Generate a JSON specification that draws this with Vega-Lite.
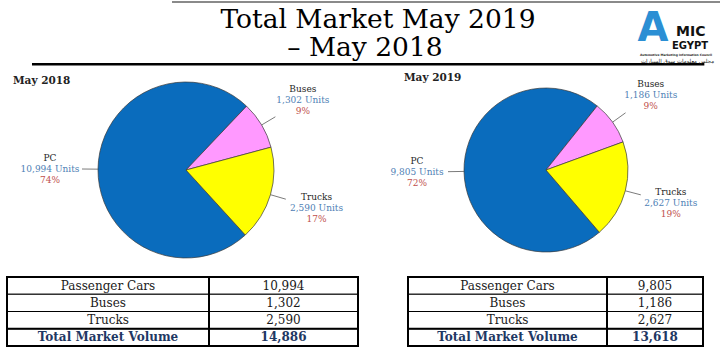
{
  "$schema": "https://vega.github.io/schema/vega-lite/v6.json",
  "padding": 0,
  "background": "white",
  "bounds": "flush",
  "spacing": 0,
  "columns": 2,
  "config": {
    "view": {"stroke": null},
    "text": {"font": "DejaVu Serif"},
    "title": {"font": "DejaVu Serif"}
  },
  "datasets": {
    "p2018": [{"cat": "PC", "units": 10994}, {"cat": "Buses", "units": 1302}, {"cat": "Trucks", "units": 2590}],
    "p2019": [{"cat": "PC", "units": 9805}, {"cat": "Buses", "units": 1186}, {"cat": "Trucks", "units": 2627}],
    "t2018": [{"row": "Passenger Cars", "units": 10994}, {"row": "Buses", "units": 1302}, {"row": "Trucks", "units": 2590}, {"row": "Total Market Volume", "units": 14886}],
    "t2019": [{"row": "Passenger Cars", "units": 9805}, {"row": "Buses", "units": 1186}, {"row": "Trucks", "units": 2627}, {"row": "Total Market Volume", "units": 13618}]
  },
  "concat": [
    {
      "width": 372,
      "height": 62,
      "data": {"values": [{"k": 1}]},
      "layer": [
        {
          "mark": {"type": "rule", "color": "#8a8a8a", "strokeWidth": 2},
          "encoding": {
            "x": {"datum": 0.4624, "type": "quantitative", "scale": {"domain": [0, 1], "nice": false, "zero": false}, "axis": null},
            "x2": {"datum": 1},
            "y": {"datum": 0.016, "type": "quantitative", "scale": {"domain": [0, 1], "reverse": true, "nice": false, "zero": false}, "axis": null}
          }
        },
        {
          "mark": {"type": "rule", "color": "#000000", "strokeWidth": 2.5},
          "encoding": {
            "x": {"datum": 0.086, "type": "quantitative", "scale": {"domain": [0, 1], "nice": false, "zero": false}, "axis": null},
            "x2": {"datum": 1},
            "y": {"datum": 1.02, "type": "quantitative", "scale": {"domain": [0, 1], "reverse": true, "nice": false, "zero": false}, "axis": null}
          }
        },
        {
          "mark": {"type": "text", "fontSize": 26.5, "align": "center", "baseline": "alphabetic", "color": "#000000", "text": "Total Market May 2019"},
          "encoding": {
            "x": {"datum": 1.016, "type": "quantitative", "scale": {"domain": [0, 1], "nice": false, "zero": false}, "axis": null},
            "y": {"datum": 0.435, "type": "quantitative", "scale": {"domain": [0, 1], "reverse": true, "nice": false, "zero": false}, "axis": null}
          }
        },
        {
          "mark": {"type": "text", "fontSize": 26.5, "align": "center", "baseline": "alphabetic", "color": "#000000", "text": "– May 2018"},
          "encoding": {
            "x": {"datum": 0.981, "type": "quantitative", "scale": {"domain": [0, 1], "nice": false, "zero": false}, "axis": null},
            "y": {"datum": 0.887, "type": "quantitative", "scale": {"domain": [0, 1], "reverse": true, "nice": false, "zero": false}, "axis": null}
          }
        }
      ]
    },
    {
      "width": 348,
      "height": 62,
      "data": {"values": [{"k": 1}]},
      "layer": [
        {
          "mark": {"type": "rule", "color": "#8a8a8a", "strokeWidth": 2},
          "encoding": {
            "x": {"datum": 0, "type": "quantitative", "scale": {"domain": [0, 1], "nice": false, "zero": false}, "axis": null},
            "x2": {"datum": 1},
            "y": {"datum": 0.016, "type": "quantitative", "scale": {"domain": [0, 1], "reverse": true, "nice": false, "zero": false}, "axis": null}
          }
        },
        {
          "mark": {"type": "rule", "color": "#000000", "strokeWidth": 2.5},
          "encoding": {
            "x": {"datum": 0, "type": "quantitative", "scale": {"domain": [0, 1], "nice": false, "zero": false}, "axis": null},
            "x2": {"datum": 0.955},
            "y": {"datum": 1.02, "type": "quantitative", "scale": {"domain": [0, 1], "reverse": true, "nice": false, "zero": false}, "axis": null}
          }
        },
        {
          "mark": {"type": "text", "font": "DejaVu Sans", "fontWeight": "bold", "fontSize": 40, "align": "center", "baseline": "alphabetic", "color": "#2b8fd4", "text": "A"},
          "encoding": {
            "x": {"datum": 0.8075, "type": "quantitative", "scale": {"domain": [0, 1], "nice": false, "zero": false}, "axis": null},
            "y": {"datum": 0.645, "type": "quantitative", "scale": {"domain": [0, 1], "reverse": true, "nice": false, "zero": false}, "axis": null}
          }
        },
        {
          "mark": {"type": "text", "font": "DejaVu Sans", "fontWeight": "bold", "fontSize": 14, "align": "left", "baseline": "alphabetic", "color": "#111111", "text": "MIC"},
          "encoding": {
            "x": {"datum": 0.8736, "type": "quantitative", "scale": {"domain": [0, 1], "nice": false, "zero": false}, "axis": null},
            "y": {"datum": 0.565, "type": "quantitative", "scale": {"domain": [0, 1], "reverse": true, "nice": false, "zero": false}, "axis": null}
          }
        },
        {
          "mark": {"type": "text", "font": "DejaVu Sans", "fontWeight": "bold", "fontSize": 10, "align": "left", "baseline": "alphabetic", "color": "#111111", "text": "EGYPT"},
          "encoding": {
            "x": {"datum": 0.862, "type": "quantitative", "scale": {"domain": [0, 1], "nice": false, "zero": false}, "axis": null},
            "y": {"datum": 0.782, "type": "quantitative", "scale": {"domain": [0, 1], "reverse": true, "nice": false, "zero": false}, "axis": null}
          }
        },
        {
          "mark": {"type": "text", "font": "DejaVu Sans", "fontWeight": "bold", "fontSize": 3, "align": "left", "baseline": "alphabetic", "color": "#222222", "text": "Automotive Marketing Information Council"},
          "encoding": {
            "x": {"datum": 0.77, "type": "quantitative", "scale": {"domain": [0, 1], "nice": false, "zero": false}, "axis": null},
            "y": {"datum": 0.879, "type": "quantitative", "scale": {"domain": [0, 1], "reverse": true, "nice": false, "zero": false}, "axis": null}
          }
        },
        {
          "mark": {"type": "text", "font": "DejaVu Sans", "fontSize": 5.5, "align": "right", "baseline": "alphabetic", "color": "#222222", "text": "مجلس معلومات سوق السيارات"},
          "encoding": {
            "x": {"datum": 0.983, "type": "quantitative", "scale": {"domain": [0, 1], "nice": false, "zero": false}, "axis": null},
            "y": {"datum": 0.992, "type": "quantitative", "scale": {"domain": [0, 1], "reverse": true, "nice": false, "zero": false}, "axis": null}
          }
        }
      ]
    },
    {
      "width": 372,
      "height": 214,
      "data": {"name": "p2018"},
      "title": {"text": "May 2018", "anchor": "start", "frame": "group", "dx": 13, "offset": -23, "fontSize": 10.5, "fontWeight": "bold", "color": "#222222"},
      "transform": [
        {"joinaggregate": [{"op": "sum", "field": "units", "as": "total"}]},
        {"window": [{"op": "sum", "field": "units", "as": "cum"}], "sort": [{"field": "units", "order": "ascending"}], "frame": [null, 0]},
        {"calculate": "0.759 + 2*PI*(datum.cum - datum.units/2)/datum.total", "as": "mid"},
        {"calculate": "88*sin(datum.mid)", "as": "ax"},
        {"calculate": "88*cos(datum.mid)", "as": "ay"},
        {"calculate": "104*sin(datum.mid)", "as": "bx"},
        {"calculate": "104*cos(datum.mid)", "as": "by"},
        {"calculate": "136*sin(datum.mid)", "as": "lx"},
        {"calculate": "136*cos(datum.mid)", "as": "ly"},
        {"calculate": "format(datum.units/datum.total, '.0%')", "as": "pct"},
        {"calculate": "format(datum.units, ',') + ' Units'", "as": "unitsLabel"}
      ],
      "layer": [
        {
          "mark": {"type": "arc", "outerRadius": 88, "stroke": "#3a3a3a", "strokeWidth": 0.7},
          "encoding": {
            "theta": {"field": "units", "type": "quantitative", "stack": true, "scale": {"range": [0.759, 7.042]}},
            "order": {"field": "units", "type": "quantitative", "sort": "ascending"},
            "color": {"field": "cat", "type": "nominal", "scale": {"domain": ["PC", "Buses", "Trucks"], "range": ["#0a6cbd", "#ff99ff", "#ffff00"]}, "legend": null}
          }
        },
        {
          "mark": {"type": "rule", "color": "#595959", "strokeWidth": 0.8},
          "encoding": {
            "x": {"field": "ax", "type": "quantitative", "scale": {"domain": [-186, 186], "nice": false, "zero": false}, "axis": null},
            "y": {"field": "ay", "type": "quantitative", "scale": {"domain": [-107, 107], "nice": false, "zero": false}, "axis": null},
            "x2": {"field": "bx"},
            "y2": {"field": "by"}
          }
        },
        {
          "mark": {"type": "text", "fontSize": 9, "dy": -11, "color": "#262626"},
          "encoding": {
            "x": {"field": "lx", "type": "quantitative", "scale": {"domain": [-186, 186], "nice": false, "zero": false}, "axis": null},
            "y": {"field": "ly", "type": "quantitative", "scale": {"domain": [-107, 107], "nice": false, "zero": false}, "axis": null},
            "text": {"field": "cat"}
          }
        },
        {
          "mark": {"type": "text", "fontSize": 9, "dy": 0, "color": "#4f7fb5"},
          "encoding": {
            "x": {"field": "lx", "type": "quantitative", "scale": {"domain": [-186, 186], "nice": false, "zero": false}, "axis": null},
            "y": {"field": "ly", "type": "quantitative", "scale": {"domain": [-107, 107], "nice": false, "zero": false}, "axis": null},
            "text": {"field": "unitsLabel"}
          }
        },
        {
          "mark": {"type": "text", "fontSize": 9, "dy": 11, "color": "#c0504d"},
          "encoding": {
            "x": {"field": "lx", "type": "quantitative", "scale": {"domain": [-186, 186], "nice": false, "zero": false}, "axis": null},
            "y": {"field": "ly", "type": "quantitative", "scale": {"domain": [-107, 107], "nice": false, "zero": false}, "axis": null},
            "text": {"field": "pct"}
          }
        }
      ]
    },
    {
      "width": 348,
      "height": 214,
      "data": {"name": "p2019"},
      "title": {"text": "May 2019", "anchor": "start", "frame": "group", "dx": 32, "offset": -20, "fontSize": 10.5, "fontWeight": "bold", "color": "#222222"},
      "transform": [
        {"joinaggregate": [{"op": "sum", "field": "units", "as": "total"}]},
        {"window": [{"op": "sum", "field": "units", "as": "cum"}], "sort": [{"field": "units", "order": "ascending"}], "frame": [null, 0]},
        {"calculate": "0.674 + 2*PI*(datum.cum - datum.units/2)/datum.total", "as": "mid"},
        {"calculate": "82*sin(datum.mid)", "as": "ax"},
        {"calculate": "82*cos(datum.mid)", "as": "ay"},
        {"calculate": "98*sin(datum.mid)", "as": "bx"},
        {"calculate": "98*cos(datum.mid)", "as": "by"},
        {"calculate": "129*sin(datum.mid)", "as": "lx"},
        {"calculate": "129*cos(datum.mid)", "as": "ly"},
        {"calculate": "format(datum.units/datum.total, '.0%')", "as": "pct"},
        {"calculate": "format(datum.units, ',') + ' Units'", "as": "unitsLabel"}
      ],
      "layer": [
        {
          "mark": {"type": "arc", "outerRadius": 82, "stroke": "#3a3a3a", "strokeWidth": 0.7},
          "encoding": {
            "theta": {"field": "units", "type": "quantitative", "stack": true, "scale": {"range": [0.674, 6.957]}},
            "order": {"field": "units", "type": "quantitative", "sort": "ascending"},
            "color": {"field": "cat", "type": "nominal", "scale": {"domain": ["PC", "Buses", "Trucks"], "range": ["#0a6cbd", "#ff99ff", "#ffff00"]}, "legend": null}
          }
        },
        {
          "mark": {"type": "rule", "color": "#595959", "strokeWidth": 0.8},
          "encoding": {
            "x": {"field": "ax", "type": "quantitative", "scale": {"domain": [-174, 174], "nice": false, "zero": false}, "axis": null},
            "y": {"field": "ay", "type": "quantitative", "scale": {"domain": [-107, 107], "nice": false, "zero": false}, "axis": null},
            "x2": {"field": "bx"},
            "y2": {"field": "by"}
          }
        },
        {
          "mark": {"type": "text", "fontSize": 9, "dy": -11, "color": "#262626"},
          "encoding": {
            "x": {"field": "lx", "type": "quantitative", "scale": {"domain": [-174, 174], "nice": false, "zero": false}, "axis": null},
            "y": {"field": "ly", "type": "quantitative", "scale": {"domain": [-107, 107], "nice": false, "zero": false}, "axis": null},
            "text": {"field": "cat"}
          }
        },
        {
          "mark": {"type": "text", "fontSize": 9, "dy": 0, "color": "#4f7fb5"},
          "encoding": {
            "x": {"field": "lx", "type": "quantitative", "scale": {"domain": [-174, 174], "nice": false, "zero": false}, "axis": null},
            "y": {"field": "ly", "type": "quantitative", "scale": {"domain": [-107, 107], "nice": false, "zero": false}, "axis": null},
            "text": {"field": "unitsLabel"}
          }
        },
        {
          "mark": {"type": "text", "fontSize": 9, "dy": 11, "color": "#c0504d"},
          "encoding": {
            "x": {"field": "lx", "type": "quantitative", "scale": {"domain": [-174, 174], "nice": false, "zero": false}, "axis": null},
            "y": {"field": "ly", "type": "quantitative", "scale": {"domain": [-107, 107], "nice": false, "zero": false}, "axis": null},
            "text": {"field": "pct"}
          }
        }
      ]
    },
    {
      "width": 372,
      "height": 69,
      "data": {"name": "t2018"},
      "encoding": {
        "y": {"field": "row", "type": "nominal", "scale": {"domain": ["Passenger Cars", "Buses", "Trucks", "Total Market Volume"], "paddingInner": 0, "paddingOuter": 0}, "axis": null}
      },
      "layer": [
        {
          "mark": {"type": "rect", "fill": "white", "stroke": "black", "strokeWidth": 1},
          "encoding": {
            "x": {"datum": 0, "type": "quantitative", "scale": {"domain": [0, 1], "range": [7, 358], "nice": false, "zero": false}, "axis": null},
            "x2": {"datum": 1}
          }
        },
        {
          "transform": [{"filter": "datum.row == 'Total Market Volume'"}],
          "mark": {"type": "rect", "fillOpacity": 0, "stroke": "black", "strokeWidth": 2},
          "encoding": {
            "x": {"datum": 0, "type": "quantitative", "scale": {"domain": [0, 1], "range": [7, 358], "nice": false, "zero": false}, "axis": null},
            "x2": {"datum": 1}
          }
        },
        {
          "mark": {"type": "rect", "fillOpacity": 0, "stroke": "black", "strokeWidth": 2},
          "encoding": {
            "x": {"datum": 0, "type": "quantitative", "scale": {"domain": [0, 1], "range": [7, 358], "nice": false, "zero": false}, "axis": null},
            "x2": {"datum": 1},
            "y": null
          }
        },
        {
          "mark": {"type": "rule", "color": "black", "strokeWidth": 1.5},
          "encoding": {
            "x": {"datum": 0.5755, "type": "quantitative", "scale": {"domain": [0, 1], "range": [7, 358], "nice": false, "zero": false}, "axis": null},
            "y": null
          }
        },
        {
          "transform": [{"filter": "datum.row != 'Total Market Volume'"}],
          "mark": {"type": "text", "fontSize": 12, "color": "#1a1a1a"},
          "encoding": {
            "x": {"datum": 0.2878, "type": "quantitative", "scale": {"domain": [0, 1], "range": [7, 358], "nice": false, "zero": false}, "axis": null},
            "text": {"field": "row"}
          }
        },
        {
          "transform": [{"filter": "datum.row != 'Total Market Volume'"}],
          "mark": {"type": "text", "fontSize": 12, "color": "#1a1a1a"},
          "encoding": {
            "x": {"datum": 0.7878, "type": "quantitative", "scale": {"domain": [0, 1], "range": [7, 358], "nice": false, "zero": false}, "axis": null},
            "text": {"field": "units", "format": ","}
          }
        },
        {
          "transform": [{"filter": "datum.row == 'Total Market Volume'"}],
          "mark": {"type": "text", "fontSize": 12, "fontWeight": "bold", "color": "#1f3864"},
          "encoding": {
            "x": {"datum": 0.2878, "type": "quantitative", "scale": {"domain": [0, 1], "range": [7, 358], "nice": false, "zero": false}, "axis": null},
            "text": {"field": "row"}
          }
        },
        {
          "transform": [{"filter": "datum.row == 'Total Market Volume'"}],
          "mark": {"type": "text", "fontSize": 12, "fontWeight": "bold", "color": "#1f3864"},
          "encoding": {
            "x": {"datum": 0.7878, "type": "quantitative", "scale": {"domain": [0, 1], "range": [7, 358], "nice": false, "zero": false}, "axis": null},
            "text": {"field": "units", "format": ","}
          }
        }
      ]
    },
    {
      "width": 348,
      "height": 69,
      "data": {"name": "t2019"},
      "encoding": {
        "y": {"field": "row", "type": "nominal", "scale": {"domain": ["Passenger Cars", "Buses", "Trucks", "Total Market Volume"], "paddingInner": 0, "paddingOuter": 0}, "axis": null}
      },
      "layer": [
        {
          "mark": {"type": "rect", "fill": "white", "stroke": "black", "strokeWidth": 1},
          "encoding": {
            "x": {"datum": 0, "type": "quantitative", "scale": {"domain": [0, 1], "range": [36, 331], "nice": false, "zero": false}, "axis": null},
            "x2": {"datum": 1}
          }
        },
        {
          "transform": [{"filter": "datum.row == 'Total Market Volume'"}],
          "mark": {"type": "rect", "fillOpacity": 0, "stroke": "black", "strokeWidth": 2},
          "encoding": {
            "x": {"datum": 0, "type": "quantitative", "scale": {"domain": [0, 1], "range": [36, 331], "nice": false, "zero": false}, "axis": null},
            "x2": {"datum": 1}
          }
        },
        {
          "mark": {"type": "rect", "fillOpacity": 0, "stroke": "black", "strokeWidth": 2},
          "encoding": {
            "x": {"datum": 0, "type": "quantitative", "scale": {"domain": [0, 1], "range": [36, 331], "nice": false, "zero": false}, "axis": null},
            "x2": {"datum": 1},
            "y": null
          }
        },
        {
          "mark": {"type": "rule", "color": "black", "strokeWidth": 1.5},
          "encoding": {
            "x": {"datum": 0.6746, "type": "quantitative", "scale": {"domain": [0, 1], "range": [36, 331], "nice": false, "zero": false}, "axis": null},
            "y": null
          }
        },
        {
          "transform": [{"filter": "datum.row != 'Total Market Volume'"}],
          "mark": {"type": "text", "fontSize": 12, "color": "#1a1a1a"},
          "encoding": {
            "x": {"datum": 0.3373, "type": "quantitative", "scale": {"domain": [0, 1], "range": [36, 331], "nice": false, "zero": false}, "axis": null},
            "text": {"field": "row"}
          }
        },
        {
          "transform": [{"filter": "datum.row != 'Total Market Volume'"}],
          "mark": {"type": "text", "fontSize": 12, "color": "#1a1a1a"},
          "encoding": {
            "x": {"datum": 0.8373, "type": "quantitative", "scale": {"domain": [0, 1], "range": [36, 331], "nice": false, "zero": false}, "axis": null},
            "text": {"field": "units", "format": ","}
          }
        },
        {
          "transform": [{"filter": "datum.row == 'Total Market Volume'"}],
          "mark": {"type": "text", "fontSize": 12, "fontWeight": "bold", "color": "#1f3864"},
          "encoding": {
            "x": {"datum": 0.3373, "type": "quantitative", "scale": {"domain": [0, 1], "range": [36, 331], "nice": false, "zero": false}, "axis": null},
            "text": {"field": "row"}
          }
        },
        {
          "transform": [{"filter": "datum.row == 'Total Market Volume'"}],
          "mark": {"type": "text", "fontSize": 12, "fontWeight": "bold", "color": "#1f3864"},
          "encoding": {
            "x": {"datum": 0.8373, "type": "quantitative", "scale": {"domain": [0, 1], "range": [36, 331], "nice": false, "zero": false}, "axis": null},
            "text": {"field": "units", "format": ","}
          }
        }
      ]
    }
  ]
}
